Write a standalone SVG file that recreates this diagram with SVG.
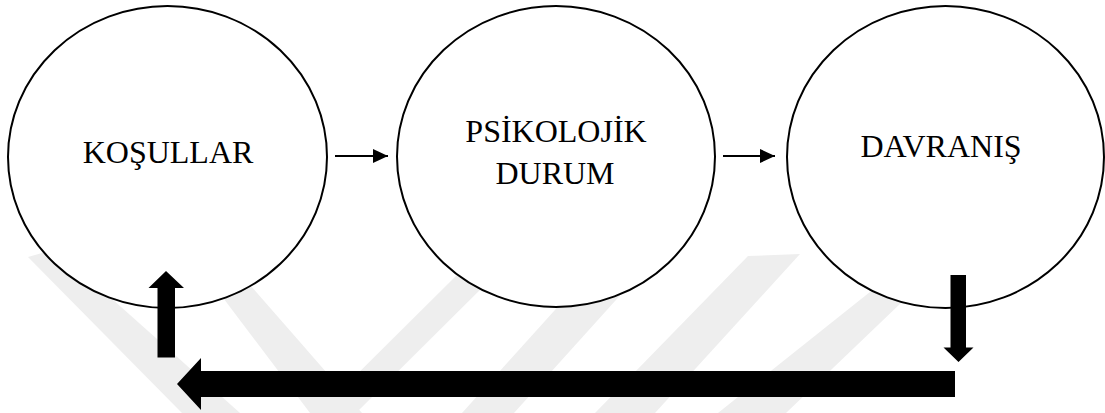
<svg xmlns="http://www.w3.org/2000/svg" width="1105" height="413" viewBox="0 0 1105 413">
<style>
.wm{fill:#eeeeee}
.node ellipse{fill:#ffffff;stroke:#000000;stroke-width:2}
.lbl{font-family:"Liberation Serif","Times New Roman",serif;font-size:32px;fill:#000000;text-anchor:middle}
.thin{stroke:#000000;stroke-width:2;fill:none}
.big{fill:#000000}
</style>
<defs>
<marker id="ah" markerWidth="15" markerHeight="14" refX="15" refY="7" orient="auto" markerUnits="userSpaceOnUse">
<path d="M0,0 L15,7 L0,14 Z" fill="#000000"/>
</marker>
</defs>
<rect width="1105" height="413" fill="#ffffff"/>
<g id="watermark">
<polygon class="wm" points="28,257 56,249 240,413 182,413"/>
<polygon class="wm" points="202,270 237,270 362,413 310,413"/>
<polygon class="wm" points="318,413 356,413 500,270 462,270"/>
<polygon class="wm" points="462,413 514,413 643,270 591,270"/>
<polygon class="wm" points="595,413 655,413 800,254 748,256"/>
<polygon class="wm" points="718,413 786,413 925,280 885,280"/>
</g>
<g id="n1" class="node">
<ellipse cx="167.5" cy="157" rx="159.5" ry="151"/>
<text class="lbl" x="168" y="163">KOŞULLAR</text>
</g>
<g id="n2" class="node">
<ellipse cx="556" cy="156.5" rx="159" ry="150.5"/>
<text class="lbl" x="556" y="142">PSİKOLOJİK</text>
<text class="lbl" x="555" y="184">DURUM</text>
</g>
<g id="n3" class="node">
<ellipse cx="945.5" cy="157" rx="158.5" ry="151"/>
<text class="lbl" x="941" y="157">DAVRANIŞ</text>
</g>
<g id="connectors">
<line class="thin" x1="335" y1="156" x2="388" y2="156" marker-end="url(#ah)"/>
<line class="thin" x1="723" y1="156" x2="775" y2="156" marker-end="url(#ah)"/>
<polygon class="big" points="157.5,357.5 175,357.5 175,288 184,288 166,271 148.5,288 157.5,288"/>
<polygon class="big" points="950.5,275 966,275 966,347.5 973.5,347.5 958.5,362 943.5,347.5 950.5,347.5"/>
<polygon class="big" points="955,371 201,371 201,358 177,384 201,410 201,397 955,397"/>
</g>
</svg>
